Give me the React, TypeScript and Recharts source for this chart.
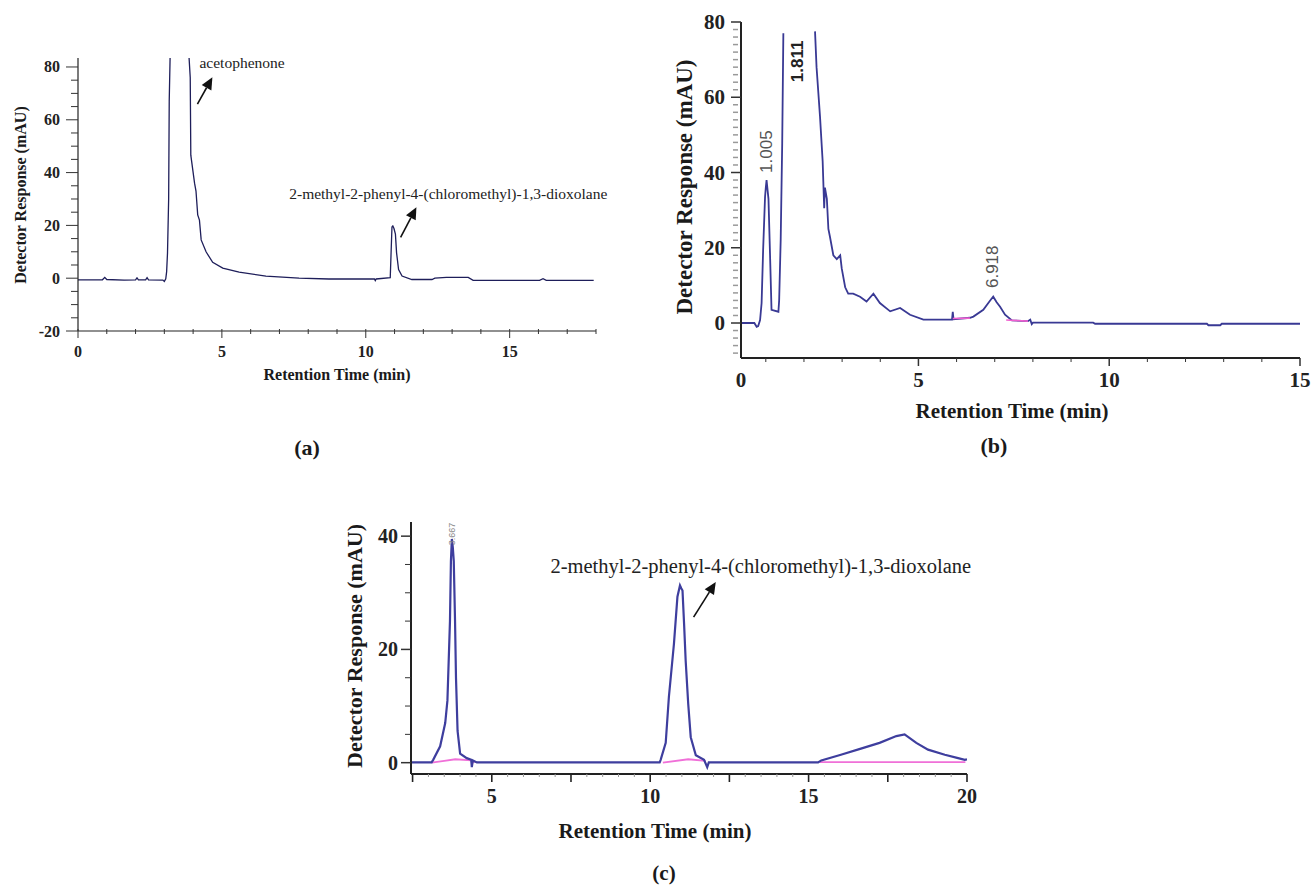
import React from "react";
import {
  LineChart,
  Line,
  XAxis,
  YAxis,
  ReferenceLine,
  ReferenceDot,
} from "recharts";

const serif = '"Liberation Serif", "Times New Roman", serif';
const sans = '"Liberation Sans", Arial, sans-serif';

// ---------- (a) chromatogram ----------
const aTime = [
  0, 0.85, 0.93, 1.0, 1.6, 2.0, 2.05, 2.1, 2.35, 2.4, 2.45, 2.95, 3.0, 3.05,
  3.08, 3.11, 3.15, 3.17, 3.2, 3.5, 3.86, 3.9, 3.92, 4.05, 4.1, 4.16, 4.22,
  4.28, 4.45, 4.68, 5.03, 5.6, 6.53, 7.68, 8.72, 10.3, 10.33, 10.36, 10.85,
  10.91, 10.94, 10.98, 11.03, 11.07, 11.14, 11.26, 11.6, 12.3, 12.4, 12.8,
  13.56, 13.73, 16.04, 16.16, 16.27, 17.92,
];
const aSignal = [
  -0.6, -0.6, 0.3, -0.5, -0.7, -0.6, 0.1, -0.6, -0.6, 0.2, -0.6, -0.7, -1.2,
  -0.2, 2.5, 9.5, 30, 67, 83.4, null, 83.4, 76, 46.6, 36, 33, 24, 22, 14.5, 10,
  6, 3.8, 2.3, 0.8, 0, -0.3, -0.3, -0.9, -0.3, 0.2, 19.4, 19.8, 18.8, 16.7,
  9.6, 3.3, 0.8, -0.5, -0.5, 0, 0.3, 0.3, -0.8, -0.8, -0.2, -0.8, -0.8,
];
const aXTicks = [0, 1, 2, 3, 4, 5, 6, 7, 8, 9, 10, 11, 12, 13, 14, 15, 16, 17, 18];
const aXLabels = [0, 5, 10, 15];
const aYTicks = [-20, -15, -10, -5, 0, 5, 10, 15, 20, 25, 30, 35, 40, 45, 50, 55, 60, 65, 70, 75, 80];
const aYLabels = [-20, 0, 20, 40, 60, 80];
const aNoteText = ["acetophenone", "2-methyl-2-phenyl-4-(chloromethyl)-1,3-dioxolane"];
const aNoteTime = [4.22, 7.34];
const aNoteValue = [79.5, 30];
const aArrowFrom = [[4.15, 65.9], [11.21, 15.5]];
const aArrowTo = [[4.67, 76.1], [11.76, 26.9]];

// ---------- (b) chromatogram ----------
const bTime = [
  0.35, 0.7, 0.76, 0.8, 0.85, 0.89, 0.93, 0.98, 1.0, 1.02, 1.05, 1.07, 1.11,
  1.15, 1.33, 1.35, 1.39, 1.43, 1.46, 1.8, 2.29, 2.33, 2.42, 2.49, 2.53, 2.55,
  2.6, 2.64, 2.68, 2.77, 2.86, 2.95, 2.99, 3.08, 3.16, 3.29, 3.47, 3.64, 3.82,
  3.99, 4.26, 4.52, 4.78, 5.13, 5.88, 5.9, 5.92, 6.35, 6.44, 6.7, 6.88, 6.96,
  7.05, 7.14, 7.27, 7.45, 7.87, 7.93, 7.97, 8.0, 9.58, 9.63, 12.56, 12.6,
  12.91, 12.95, 15,
];
const bSignal = [
  0, 0, -1, -0.8, 0.8, 5.3, 19.4, 33.5, 36, 38, 35, 33, 18.5, 3.5, 3, 6, 22,
  47.8, 77, null, 77.5, 68, 55, 43, 30.5, 36, 33, 25, 23, 18, 17, 18, 14.5,
  9.5, 7.8, 7.8, 7, 5.7, 7.8, 5.3, 3.1, 4, 2.2, 0.9, 0.9, 3, 1.0, 1.4, 1.7,
  3.5, 6, 7, 5.5, 4.3, 2.2, 0.7, 0.5, 0.9, -0.3, 0.1, 0.1, -0.2, -0.2, -0.6,
  -0.6, -0.2, -0.2,
];
const bBaseTime = [5.9, 6.35, 6.4, 7.3, 7.87];
const bBaseSignal = [1.2, 1.3, null, 0.8, 0.5];
const bXTicks = [0.35, 1, 2, 3, 4, 5, 6, 7, 8, 9, 10, 11, 12, 13, 14, 15];
const bXLabelValues = [0.35, 5, 10, 15];
const bXLabelTexts = ["0", "5", "10", "15"];
const bYTicks = [
  -8, -6, -4, -2, 0, 2, 4, 6, 8, 10, 12, 14, 16, 18, 20, 22, 24, 26, 28, 30,
  32, 34, 36, 38, 40, 42, 44, 46, 48, 50, 52, 54, 56, 58, 60, 62, 64, 66, 68,
  70, 72, 74, 76, 78, 80,
];
const bYLabels = [0, 20, 40, 60, 80];
const bPeakText = ["1.005", "1.811", "6.918"];
const bPeakTime = [1.03, 1.82, 6.93];
const bPeakValue = [39.9, 64, 9.3];

// ---------- (c) chromatogram ----------
const cTime = [
  2.45, 3.1, 3.15, 3.37, 3.53, 3.6, 3.68, 3.71, 3.74, 3.77, 3.8, 3.84, 3.87,
  3.92, 4.0, 4.21, 4.35, 4.37, 4.4, 4.53, 10.3, 10.33, 10.49, 10.59, 10.75,
  10.86, 10.94, 10.98, 11.02, 11.07, 11.12, 11.2, 11.28, 11.44, 11.7, 11.8,
  11.85, 15.3, 15.4, 16.02, 16.6, 17.24, 17.77, 18.03, 18.4, 18.77, 19.3,
  19.72, 19.93, 20.0,
];
const cSignal = [
  0.05, 0.05, 0.5, 2.9, 7, 11, 25, 35.6, 39.5, 38, 35.6, 25, 15, 5.6, 1.6,
  0.8, 0.5, -0.8, 0.4, 0.05, 0.05, 0.5, 3.5, 11.6, 21, 29.3, 31.3, 30.8, 30.4,
  24.5, 18, 10.4, 4.5, 1.3, 0.5, -0.8, 0.05, 0.05, 0.4, 1.4, 2.4, 3.5, 4.7, 5,
  3.5, 2.3, 1.4, 0.8, 0.5, 0.6,
];
const cBaseTime = [3.1, 3.5, 3.85, 4.35, 4.45, 4.5, 10.4, 11.2, 11.75, 11.8, 15.35, 19.95];
const cBaseSignal = [0, 0.3, 0.6, 0.4, 0, null, 0, 0.6, 0.3, null, 0.1, 0.1];
const cXTicks = Array.from({ length: 36 }, (_, i) => 2.5 + i * 0.5);
const cXLabels = [5, 10, 15, 20];
const cYTicks = [0, 5, 10, 15, 20, 25, 30, 35, 40];
const cYLabels = [0, 20, 40];
const cNoteText = "2-methyl-2-phenyl-4-(chloromethyl)-1,3-dioxolane";
const cNoteTime = 6.85;
const cNoteValue = 33.5;
const cArrowFrom = [11.37, 25.7];
const cArrowTo = [12.07, 31.9];
const cPeakText = "3.667";
const cPeakTime = 3.75;
const cPeakValue = 38.4;

const toPoints = (time: number[], signal: (number | null)[]) =>
  time.map((t, i) => ({ t, v: signal[i] }));

const aPoints = toPoints(aTime, aSignal);
const bPoints = toPoints(bTime, bSignal);
const bBase = toPoints(bBaseTime, bBaseSignal);
const cPoints = toPoints(cTime, cSignal);
const cBase = toPoints(cBaseTime, cBaseSignal);

function ArrowShape(props: any) {
  const { x1, y1, x2, y2 } = props;
  const dx = x2 - x1;
  const dy = y2 - y1;
  const len = Math.hypot(dx, dy) || 1;
  const ux = dx / len;
  const uy = dy / len;
  const hl = 12;
  const hw = 5.5;
  const bx = x2 - ux * hl;
  const by = y2 - uy * hl;
  return (
    <g>
      <line x1={x1} y1={y1} x2={bx} y2={by} stroke="#111" strokeWidth={1.6} />
      <polygon
        points={`${x2},${y2} ${bx - uy * hw},${by + ux * hw} ${bx + uy * hw},${by - ux * hw}`}
        fill="#111"
      />
    </g>
  );
}

const noteShape = (text: string, size: number) => (p: any) => (
  <text x={p.cx} y={p.cy} fontFamily={serif} fontSize={size} fill="#222">
    {text}
  </text>
);

const upShape = (text: string, size: number, fill: string, weight: string) => (p: any) => (
  <text
    x={p.cx}
    y={p.cy}
    transform={`rotate(-90 ${p.cx} ${p.cy})`}
    textAnchor="start"
    dominantBaseline="central"
    fontFamily={sans}
    fontSize={size}
    fontWeight={weight}
    fill={fill}
  >
    {text}
  </text>
);

// ---------- ticks ----------
function AXTick({ x, y, payload }: any) {
  const v = payload.value;
  const major = aXLabels.includes(v);
  return (
    <g>
      <line x1={x} x2={x} y1={y - 2} y2={y + (major ? 7 : 3)} stroke="#333" />
      {major && (
        <text x={x} y={y + 26} textAnchor="middle" fontFamily={serif} fontWeight="bold" fontSize={16} fill="#222">
          {v}
        </text>
      )}
    </g>
  );
}

function AYTick({ x, y, payload }: any) {
  const v = payload.value;
  const major = aYLabels.includes(v);
  return (
    <g>
      <line x1={x} x2={x - (major ? 12 : 7)} y1={y} y2={y} stroke="#333" />
      {major && (
        <text x={x - 18} y={y} textAnchor="end" dominantBaseline="central" fontFamily={serif} fontWeight="bold" fontSize={16} fill="#222">
          {v}
        </text>
      )}
    </g>
  );
}

function BXTick({ x, y, payload }: any) {
  const v = payload.value;
  const idx = bXLabelValues.indexOf(v);
  const major = idx > 0;
  return (
    <g>
      {idx !== 0 && (
        <line x1={x} x2={x} y1={y} y2={y + (major ? 8 : 4)} stroke="#333" strokeWidth={major ? 1.5 : 1} />
      )}
      {idx >= 0 && (
        <text x={x} y={y + 29} textAnchor="middle" fontFamily={serif} fontWeight="bold" fontSize={21} fill="#222">
          {bXLabelTexts[idx]}
        </text>
      )}
    </g>
  );
}

function BYTick({ x, y, payload }: any) {
  const v = payload.value;
  const major = bYLabels.includes(v);
  return (
    <g>
      {major ? (
        <line x1={x} x2={x - 10} y1={y} y2={y} stroke="#333" strokeWidth={1.5} />
      ) : (
        <line x1={x - 3} x2={x - 8} y1={y} y2={y} stroke="#999" strokeWidth={1.5} />
      )}
      {major && (
        <text x={x - 16} y={y} textAnchor="end" dominantBaseline="central" fontFamily={serif} fontWeight="bold" fontSize={21} fill="#222">
          {v}
        </text>
      )}
    </g>
  );
}

function CXTick({ x, y, payload }: any) {
  const v = payload.value;
  const label = cXLabels.includes(v);
  const mid = Math.abs(v / 2.5 - Math.round(v / 2.5)) < 1e-6;
  return (
    <g>
      {mid ? (
        <line x1={x} x2={x} y1={y} y2={y + 8} stroke="#222" strokeWidth={1.6} />
      ) : (
        <line x1={x} x2={x} y1={y} y2={y + 3} stroke="#999" />
      )}
      {label && (
        <text x={x} y={y + 29} textAnchor="middle" fontFamily={serif} fontWeight="bold" fontSize={20} fill="#222">
          {v}
        </text>
      )}
    </g>
  );
}

function CYTick({ x, y, payload }: any) {
  const v = payload.value;
  const major = cYLabels.includes(v);
  return (
    <g>
      <line x1={x} x2={x - (major ? 10 : 6)} y1={y} y2={y} stroke="#333" strokeWidth={major ? 1.5 : 1} />
      {major && (
        <text x={x - 13} y={y} textAnchor="end" dominantBaseline="central" fontFamily={serif} fontWeight="bold" fontSize={20} fill="#222">
          {v}
        </text>
      )}
    </g>
  );
}

function Title({ x, y, size, text, vertical }: { x: number; y: number; size: number; text: string; vertical?: boolean }) {
  return (
    <text
      x={x}
      y={y}
      textAnchor="middle"
      dominantBaseline={vertical ? "central" : undefined}
      transform={vertical ? `rotate(-90 ${x} ${y})` : undefined}
      fontFamily={serif}
      fontWeight="bold"
      fontSize={size}
      fill="#1a1a1a"
    >
      {text}
    </text>
  );
}

export default function App() {
  return (
    <div style={{ position: "absolute", left: 0, top: 0, width: 1313, height: 885, background: "#fff", overflow: "hidden" }}>
      {/* (a) */}
      <div style={{ position: "absolute", left: 0, top: 0 }}>
        <LineChart width={620} height={400} margin={{ top: 58, right: 24, bottom: 39, left: 18 }}>
          <XAxis
            type="number"
            dataKey="t"
            domain={[0, 18]}
            ticks={aXTicks}
            interval={0}
            allowDataOverflow
            height={30}
            tickSize={0}
            tickMargin={0}
            tickLine={false}
            axisLine={{ stroke: "#222", strokeWidth: 1.2 }}
            tick={<AXTick />}
          />
          <YAxis
            type="number"
            domain={[-20, 83.4]}
            ticks={aYTicks}
            interval={0}
            allowDataOverflow
            width={60}
            tickSize={0}
            tickMargin={0}
            tickLine={false}
            axisLine={{ stroke: "#222", strokeWidth: 1.2 }}
            tick={<AYTick />}
          />
          <Line data={aPoints} dataKey="v" type="linear" stroke="#1e1e5a" strokeWidth={1.3} dot={false} connectNulls={false} isAnimationActive={false} />
          {aNoteText.map((txt, i) => (
            <ReferenceDot key={txt} x={aNoteTime[i]} y={aNoteValue[i]} r={0} shape={noteShape(txt, 15.5)} />
          ))}
          {aArrowFrom.map((from, i) => (
            <ReferenceLine
              key={i}
              segment={[
                { x: from[0], y: from[1] },
                { x: aArrowTo[i][0], y: aArrowTo[i][1] },
              ]}
              shape={ArrowShape}
            />
          ))}
        </LineChart>
      </div>

      {/* (b) */}
      <div style={{ position: "absolute", left: 640, top: 0 }}>
        <LineChart width={673} height={430} margin={{ top: 22, right: 13, bottom: 32, left: 21 }}>
          <XAxis
            type="number"
            dataKey="t"
            domain={[0.35, 15]}
            ticks={bXTicks}
            interval={0}
            allowDataOverflow
            height={40}
            tickSize={0}
            tickMargin={0}
            tickLine={false}
            axisLine={{ stroke: "#222", strokeWidth: 2 }}
            tick={<BXTick />}
          />
          <YAxis
            type="number"
            domain={[-9.3, 80]}
            ticks={bYTicks}
            interval={0}
            allowDataOverflow
            width={80}
            tickSize={0}
            tickMargin={0}
            tickLine={false}
            axisLine={{ stroke: "#222", strokeWidth: 2 }}
            tick={<BYTick />}
          />
          <Line data={bPoints} dataKey="v" type="linear" stroke="#393994" strokeWidth={1.8} dot={false} connectNulls={false} isAnimationActive={false} />
          <Line data={bBase} dataKey="v" type="linear" stroke="#f060d0" strokeWidth={1.6} dot={false} connectNulls={false} isAnimationActive={false} />
          {bPeakText.map((txt, i) => (
            <ReferenceDot
              key={txt}
              x={bPeakTime[i]}
              y={bPeakValue[i]}
              r={0}
              shape={upShape(txt, 17, i === 1 ? "#222" : "#555", i === 1 ? "bold" : "normal")}
            />
          ))}
        </LineChart>
      </div>

      {/* (c) */}
      <div style={{ position: "absolute", left: 300, top: 480 }}>
        <LineChart width={700} height={405} margin={{ top: 42, right: 33, bottom: 71, left: 31 }}>
          <XAxis
            type="number"
            dataKey="t"
            domain={[2.45, 20]}
            ticks={cXTicks}
            interval={0}
            allowDataOverflow
            height={40}
            tickSize={0}
            tickMargin={0}
            tickLine={false}
            axisLine={{ stroke: "#222", strokeWidth: 2 }}
            tick={<CXTick />}
          />
          <YAxis
            type="number"
            domain={[-2, 42.5]}
            ticks={cYTicks}
            interval={0}
            allowDataOverflow
            width={80}
            tickSize={0}
            tickMargin={0}
            tickLine={false}
            axisLine={{ stroke: "#222", strokeWidth: 2 }}
            tick={<CYTick />}
          />
          <Line data={cBase} dataKey="v" type="linear" stroke="#f070d8" strokeWidth={1.8} dot={false} connectNulls={false} isAnimationActive={false} />
          <Line data={cPoints} dataKey="v" type="linear" stroke="#3e3e9e" strokeWidth={2.2} dot={false} connectNulls={false} isAnimationActive={false} />
          <ReferenceDot x={cNoteTime} y={cNoteValue} r={0} shape={noteShape(cNoteText, 20.5)} />
          <ReferenceDot x={cPeakTime} y={cPeakValue} r={0} shape={upShape(cPeakText, 9, "#888", "normal")} />
          <ReferenceLine
            segment={[
              { x: cArrowFrom[0], y: cArrowFrom[1] },
              { x: cArrowTo[0], y: cArrowTo[1] },
            ]}
            shape={ArrowShape}
          />
        </LineChart>
      </div>

      <svg width={1313} height={885} style={{ position: "absolute", left: 0, top: 0, pointerEvents: "none" }}>
        <Title x={20} y={195} size={16} text="Detector Response (mAU)" vertical />
        <Title x={337} y={380} size={16} text="Retention Time (min)" />
        <Title x={307} y={455} size={22} text="(a)" />
        <Title x={684} y={187} size={23} text="Detector Response (mAU)" vertical />
        <Title x={1012} y={418} size={21} text="Retention Time (min)" />
        <Title x={994} y={453} size={22} text="(b)" />
        <Title x={354} y={646} size={22} text="Detector Response (mAU)" vertical />
        <Title x={655} y={838} size={21} text="Retention Time (min)" />
        <Title x={664} y={880} size={21} text="(c)" />
      </svg>
    </div>
  );
}
